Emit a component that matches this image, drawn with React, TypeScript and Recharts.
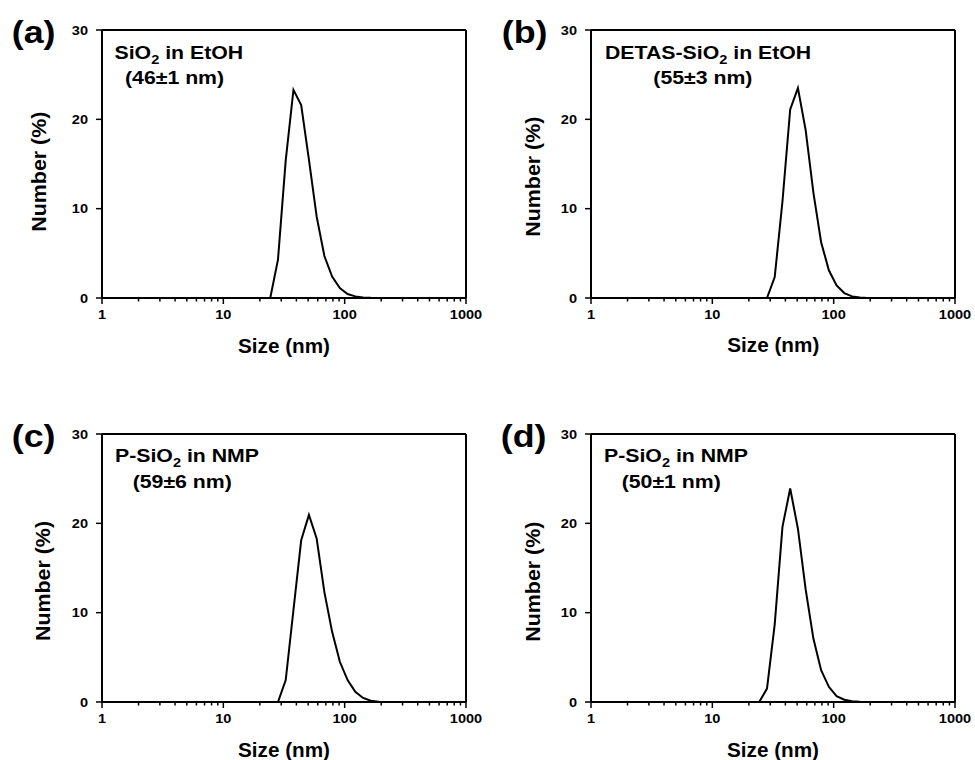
import * as React from "react";
import { LineChart, Line, XAxis, YAxis, ReferenceLine } from "recharts";

// Malvern size bins (nm)
const sizes = [10.1, 11.7, 13.54, 15.69, 18.17, 21.04, 24.36, 28.21, 32.67, 37.84, 43.82, 50.75, 58.77, 68.06, 78.82, 91.28, 105.7, 122.4, 141.8, 164.2, 190.1, 220.2, 255.0, 295.3, 342.0];

// Number (%) per bin
const sio2Etoh = [0, 0, 0, 0, 0, 0, 0, 4.3, 15.4, 23.3, 21.6, 15.5, 9.1, 4.7, 2.4, 1.1, 0.45, 0.18, 0.06, 0.02, 0, 0, 0, 0, 0];
const detasEtoh = [0, 0, 0, 0, 0, 0, 0, 0, 2.35, 10.8, 21.1, 23.5, 18.8, 11.8, 6.25, 3.1, 1.4, 0.55, 0.18, 0.05, 0, 0, 0, 0, 0];
const pSio2NmpC = [0, 0, 0, 0, 0, 0, 0, 0, 2.45, 10.3, 18.1, 20.95, 18.3, 12.3, 7.85, 4.5, 2.45, 1.15, 0.45, 0.15, 0.04, 0, 0, 0, 0];
const pSio2NmpD = [0, 0, 0, 0, 0, 0, 0, 1.5, 8.7, 19.6, 23.9, 19.4, 12.6, 7.1, 3.55, 1.7, 0.65, 0.25, 0.08, 0.02, 0, 0, 0, 0, 0];

const majorX = [1, 10, 100, 1000];
const minorSteps = [2, 3, 4, 5, 6, 7, 8, 9];
const yTicks = [0, 10, 20, 30];

const xTicks = [
  ...majorX.slice(0, 3).flatMap((m) => [m, ...minorSteps.map((s) => s * m)]),
  1000,
];

const FONT = '"Liberation Sans", Arial, sans-serif';
const SX = 1.12; // text in the figure is a little stretched sideways

const PLOT_W = 364;
const PLOT_H = 268;
const M = { top: 30, left: 42, right: 30, bottom: 10 };
const Y_W = 60;
const X_H = 40;

function XTick(props: any) {
  const { x, y, payload } = props;
  const v = payload.value;
  const major = majorX.includes(v);
  return (
    <g>
      <line x1={x} x2={x} y1={y} y2={y + (major ? 6 : 3.5)} stroke="#000" strokeWidth={1.5} />
      {major && (
        <text
          transform={`translate(${x},${y + 21}) scale(${SX},1)`}
          textAnchor="middle"
          fontFamily={FONT}
          fontWeight="bold"
          fontSize={13}
          fill="#000"
        >
          {v}
        </text>
      )}
    </g>
  );
}

function YTick(props: any) {
  const { x, y, payload } = props;
  return (
    <g>
      <line x1={x} x2={x - 6} y1={y} y2={y} stroke="#000" strokeWidth={1.5} />
      <text
        transform={`translate(${x - 14},${y + 4.5}) scale(${SX},1)`}
        textAnchor="end"
        fontFamily={FONT}
        fontWeight="bold"
        fontSize={13}
        fill="#000"
      >
        {payload.value}
      </text>
    </g>
  );
}

function Panel({ values, left, top }: { values: number[]; left: number; top: number }) {
  const data = sizes.map((s, i) => ({ size: s, v: values[i] }));
  return (
    <div style={{ position: "absolute", left, top }}>
      <LineChart
        width={M.left + Y_W + PLOT_W + M.right}
        height={M.top + PLOT_H + X_H + M.bottom}
        data={data}
        margin={M}
      >
        <XAxis
          dataKey="size"
          type="number"
          scale="log"
          domain={[1, 1000]}
          allowDataOverflow
          ticks={xTicks}
          interval={0}
          height={X_H}
          tickSize={0}
          tickMargin={0}
          tickLine={false}
          tick={<XTick />}
          axisLine={{ stroke: "#000", strokeWidth: 2 }}
        />
        <YAxis
          type="number"
          domain={[0, 30]}
          ticks={yTicks}
          interval={0}
          width={Y_W}
          tickSize={0}
          tickMargin={0}
          tickLine={false}
          tick={<YTick />}
          axisLine={{ stroke: "#000", strokeWidth: 2 }}
        />
        <ReferenceLine y={30} stroke="#000" strokeWidth={2} />
        <ReferenceLine x={1000} stroke="#000" strokeWidth={2} />
        <Line
          dataKey="v"
          type="linear"
          stroke="#000"
          strokeWidth={2}
          dot={false}
          activeDot={false}
          isAnimationActive={false}
        />
      </LineChart>
    </div>
  );
}

function Txt({ x, y, size, anchor = "start", children }: any) {
  return (
    <text
      transform={`translate(${x},${y}) scale(${SX},1)`}
      textAnchor={anchor}
      fontFamily={FONT}
      fontWeight="bold"
      fontSize={size}
      fill="#000"
    >
      {children}
    </text>
  );
}

function Sub({ children }: any) {
  return (
    <tspan fontSize={13} dy={5}>
      {children}
    </tspan>
  );
}

function Back() {
  return <tspan dy={-5}> </tspan>;
}

function YTitle({ x, y }: { x: number; y: number }) {
  return (
    <text
      transform={`translate(${x},${y}) rotate(-90)`}
      textAnchor="middle"
      fontFamily={FONT}
      fontWeight="bold"
      fontSize={19.5}
      textLength={120}
      lengthAdjust="spacingAndGlyphs"
      fill="#000"
    >
      Number (%)
    </text>
  );
}

function XTitle({ x, y }: { x: number; y: number }) {
  return (
    <text
      x={x}
      y={y}
      textAnchor="middle"
      fontFamily={FONT}
      fontWeight="bold"
      fontSize={19.5}
      textLength={92}
      lengthAdjust="spacingAndGlyphs"
      fill="#000"
    >
      Size (nm)
    </text>
  );
}

export default function App() {
  return (
    <div style={{ position: "absolute", left: 0, top: 0, width: 975, height: 760, background: "#fff", overflow: "hidden" }}>
      <Panel values={sio2Etoh} left={0} top={0} />
      <Panel values={detasEtoh} left={489} top={0} />
      <Panel values={pSio2NmpC} left={0} top={403.5} />
      <Panel values={pSio2NmpD} left={489} top={403.5} />
      <svg width={975} height={760} style={{ position: "absolute", left: 0, top: 0, pointerEvents: "none" }}>
        <Txt x={11.7} y={43} size={32}>(a)</Txt>
        <Txt x={501.7} y={43} size={32}>(b)</Txt>
        <Txt x={11.7} y={446.5} size={32}>(c)</Txt>
        <Txt x={500.7} y={446.5} size={32}>(d)</Txt>

        <Txt x={114.5} y={59} size={19}>
          SiO<Sub>2</Sub><Back /> in EtOH
        </Txt>
        <Txt x={125} y={84} size={19}>(46±1 nm)</Txt>

        <Txt x={605} y={59} size={19}>
          DETAS-SiO<Sub>2</Sub><Back /> in EtOH
        </Txt>
        <Txt x={653.3} y={84} size={19}>(55±3 nm)</Txt>

        <Txt x={115} y={462} size={19}>
          P-SiO<Sub>2</Sub><Back /> in NMP
        </Txt>
        <Txt x={132.7} y={488} size={19}>(59±6 nm)</Txt>

        <Txt x={604} y={462} size={19}>
          P-SiO<Sub>2</Sub><Back /> in NMP
        </Txt>
        <Txt x={621.7} y={488} size={19}>(50±1 nm)</Txt>

        <YTitle x={46} y={171.7} />
        <YTitle x={539.5} y={176.7} />
        <YTitle x={49.5} y={581} />
        <YTitle x={539.5} y={581.7} />

        <XTitle x={284} y={352.5} />
        <XTitle x={773.3} y={352} />
        <XTitle x={284} y={756.5} />
        <XTitle x={773} y={756.5} />
      </svg>
    </div>
  );
}
